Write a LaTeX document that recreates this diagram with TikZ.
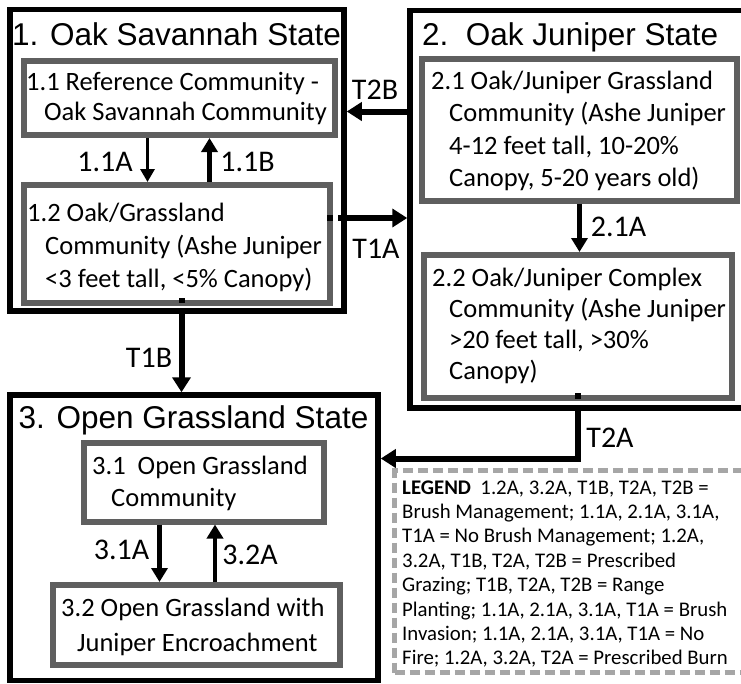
\documentclass[tikz,border=0pt]{standalone}
\usepackage{fontspec}
\setmainfont{Carlito}
\newfontfamily\arialf{Liberation Sans}
\usetikzlibrary{arrows.meta,calc,fit}
\definecolor{boxgray}{HTML}{5F5F5F}
\definecolor{leggray}{HTML}{A6A6A6}
\begin{document}
\begin{tikzpicture}[x=1pt,y=-1pt,
  statebox/.style={draw=black,line width=5.5pt,fill=white,inner sep=0pt},
  combox/.style={draw=boxgray,line width=6pt,fill=white,inner sep=0pt},
  legbox/.style={draw=leggray,line width=4.5pt,dash pattern=on 10pt off 5pt,fill=white,inner sep=0pt},
  boxtext/.style={inner sep=0pt,anchor=north west,align=left},
  titletext/.style={inner sep=0pt,anchor=base west,font=\arialf\fontsize{31.5}{36}\selectfont},
  lab/.style={inner sep=0pt,font=\fontsize{30}{34}\selectfont},
  tarrow/.style={line width=6pt,-{Triangle[length=15pt,width=18pt]}},
  carrow/.style={line width=3.5pt,-{Triangle[length=13pt,width=14pt]}},
  carrowb/.style={line width=4.5pt,-{Triangle[length=14pt,width=16pt]}},
]
\useasboundingbox (0,0) rectangle (741,683);
\clip (0,0) rectangle (741,683);
\fill[white] (0,0) rectangle (741,683);

% states
\node[statebox,fit={(10,9.5) (344,311)}] (s1) {};
\node[statebox,fit={(410,10.5) (760,408)}] (s2) {};
\node[statebox,fit={(10,395) (378,680.5)}] (s3) {};
\node[legbox,fit={(394.5,470.5) (760,672.5)}] (leg) {};

% community boxes
\node[combox,fit={(23.5,61) (335,135)}] (b11) {};
\node[combox,fit={(23.5,185) (330,302.5)}] (b12) {};
\node[combox,fit={(421.5,58.5) (736.5,200.5)}] (b21) {};
\node[combox,fit={(423.5,255) (731.5,397.5)}] (b22) {};
\node[combox,fit={(84,442.5) (324,521.5)}] (b31) {};
\node[combox,fit={(52.5,585) (340,665)}] (b32) {};

% titles
\node[titletext] (t1) at (12,45) {1. Oak Savannah State};
\node[titletext] (t2) at (422,45) {2.\ \ Oak Juniper State};
\node[titletext] (t3) at (18.5,428) {3. Open Grassland State};

% box texts
\node[boxtext,font=\fontsize{26.5}{30}\selectfont] (b11t) at (26,69.5) {\strut 1.1 Reference Community -\\\hspace*{18pt}Oak Savannah Community};
\node[boxtext,font=\fontsize{26.5}{33}\selectfont] (b12t) at (27,198.5) {\strut 1.2 Oak/Grassland\\\hspace*{18pt}Community (Ashe Juniper\\\hspace*{18pt}{<}3 feet tall, {<}5\% Canopy)};
\node[boxtext,font=\fontsize{26.5}{32.5}\selectfont] (b21t) at (431,66.5) {\strut 2.1 Oak/Juniper Grassland\\\hspace*{18pt}Community (Ashe Juniper\\\hspace*{18pt}4-12 feet tall, 10-20\%\\\hspace*{18pt}Canopy, 5-20 years old)};
\node[boxtext,font=\fontsize{26.5}{31}\selectfont] (b22t) at (432,265) {\strut 2.2 Oak/Juniper Complex\\\hspace*{17pt}Community (Ashe Juniper\\\hspace*{17pt}{>}20 feet tall, {>}30\%\\\hspace*{17pt}Canopy)};
\node[boxtext,font=\fontsize{26.5}{32}\selectfont] (b31t) at (92,452) {\strut 3.1\ \ Open Grassland\\\hspace*{19pt}Community};
\node[boxtext,font=\fontsize{26.5}{35}\selectfont] (b32t) at (61,592) {\strut 3.2 Open Grassland with\\\hspace*{16pt}Juniper Encroachment};

% legend text
\node[boxtext,font=\fontsize{20.8}{24.4}\selectfont] (legt) at (402,476.9) {\strut\textbf{LEGEND}\ \ 1.2A, 3.2A, T1B, T2A, T2B =\\Brush Management; 1.1A, 2.1A, 3.1A,\\T1A = No Brush Management; 1.2A,\\3.2A, T1B, T2A, T2B = Prescribed\\Grazing; T1B, T2A, T2B = Range\\Planting; 1.1A, 2.1A, 3.1A, T1A = Brush\\Invasion; 1.1A, 2.1A, 3.1A, T1A = No\\Fire; 1.2A, 3.2A, T2A = Prescribed Burn};

% coordinates for connector positions
\coordinate (x11a) at (147.5,0);
\coordinate (x11b) at (209.5,0);
\coordinate (x21a) at (579.5,0);
\coordinate (x31a) at (159.5,0);
\coordinate (x32a) at (215,0);
\coordinate (yt2b) at (0,111.5);
\coordinate (yt1a) at (0,218);
\coordinate (xt1b) at (181.5,0);
\coordinate (xt2a) at (577.5,0);
\coordinate (ct2a) at (577.5,458.5);

% within-state arrows
\draw[carrow] (b11.south -| x11a) -- (b12.north -| x11a);
\draw[carrowb] (b12.north -| x11b) -- (b11.south -| x11b);
\draw[carrowb] (b21.south -| x21a) -- (b22.north -| x21a);
\draw[carrowb] (b31.south -| x31a) -- (b32.north -| x31a);
\draw[carrowb] (b32.north -| x32a) -- (b31.south -| x32a);

% transitions
\draw[tarrow] (s2.west |- yt2b) -- (s1.east |- yt2b);
\draw[tarrow,dash pattern=on 6pt off 5pt on 1000pt off 0pt] ($(b12.east |- yt1a)+(-6,0)$) -- (s2.west |- yt1a);
\draw[tarrow,dash pattern=on 5pt off 5pt on 1000pt off 0pt] ($(b12.south -| xt1b)+(0,-7.5)$) -- (s3.north -| xt1b);
\draw[tarrow,dash pattern=on 6pt off 6pt on 1000pt off 0pt] ($(b22.south -| xt2a)+(0,-7.5)$) -- (ct2a) -- (s3.east |- ct2a);

% labels
\node[lab] (l11a) at (105,161.5) {1.1A};
\node[lab] (l11b) at (247.5,161.5) {1.1B};
\node[lab] (lt2b) at (375,89.5) {T2B};
\node[lab] (lt1a) at (376,249) {T1A};
\node[lab] (lt1b) at (149,358) {T1B};
\node[lab] (l21a) at (618.5,226.5) {2.1A};
\node[lab] (lt2a) at (610,438) {T2A};
\node[lab] (l31a) at (121.5,550) {3.1A};
\node[lab] (l32a) at (250,554.5) {3.2A};
\end{tikzpicture}
\end{document}
